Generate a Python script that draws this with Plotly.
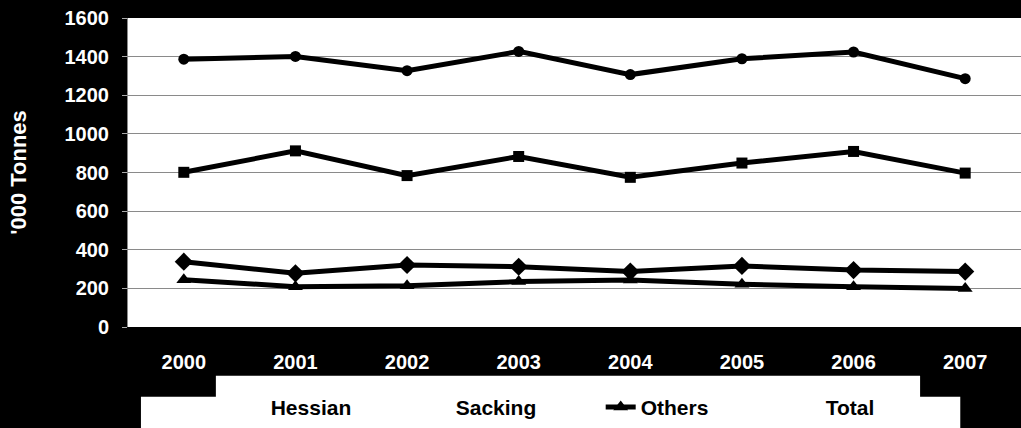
import plotly.graph_objects as go

years = ["2000", "2001", "2002", "2003", "2004", "2005", "2006", "2007"]
hessian = [338, 278, 321, 312, 287, 316, 295, 287]
sacking = [801, 912, 784, 883, 775, 849, 909, 797]
others = [245, 209, 214, 235, 243, 221, 209, 200]
total = [1387, 1401, 1327, 1427, 1307, 1389, 1424, 1286]
y_ticks = [0, 200, 400, 600, 800, 1000, 1200, 1400, 1600]

FONT = "Liberation Sans, Arial, sans-serif"

fig = go.Figure()

series = [
    ("Hessian", hessian, "diamond", 14),
    ("Sacking", sacking, "square", 11),
    ("Others", others, "triangle-up", 13),
    ("Total", total, "circle", 11),
]

for name, vals, sym, sz in series:
    fig.add_trace(go.Scatter(
        x=years, y=vals, name=name, mode="lines+markers",
        line=dict(color="black", width=5),
        marker=dict(symbol=sym, size=sz, color="black"),
        showlegend=(name == "Others"), legendrank=2,
    ))

# legend-only entries whose symbols are lost in the reference
for name, vals, sym, sz in series:
    if name == "Others":
        continue
    fig.add_trace(go.Scatter(
        x=[None], y=[None], name=name, mode="lines",
        line=dict(color="rgba(255,255,255,0)", width=1),
        showlegend=True,
        legendrank={"Hessian": 1, "Sacking": 1.5, "Total": 3}[name],
    ))

# white scan patches behind the legend
fig.add_shape(type="rect", xref="paper", yref="paper",
              x0=0.0984, x1=0.887, y0=-0.36, y1=-0.158,
              fillcolor="white", line=dict(width=0), layer="below")
fig.add_shape(type="rect", xref="paper", yref="paper",
              x0=0.0145, x1=0.932, y0=-0.36, y1=-0.226,
              fillcolor="white", line=dict(width=0), layer="below")

fig.update_layout(
    width=1021, height=428,
    margin=dict(l=128, r=0, t=18, b=97),
    paper_bgcolor="black", plot_bgcolor="white",
    font=dict(family=FONT, color="white", size=20, weight="bold"),
    legend=dict(
        orientation="h", x=0.115, xanchor="left", y=-0.26, yanchor="middle",
        bgcolor="rgba(0,0,0,0)", font=dict(color="black", size=21, family=FONT, weight="bold"),
        entrywidth=140, entrywidthmode="pixels", traceorder="normal",
    ),
    xaxis=dict(
        type="category", range=[-0.5, 7.5], showgrid=False,
        showline=True, linecolor="black", linewidth=2,
        ticks="", tickfont=dict(size=20, color="white", family=FONT, weight="bold"),
        ticklabelstandoff=16,
    ),
    yaxis=dict(
        range=[0, 1600], tickvals=y_ticks, showgrid=True,
        gridcolor="#8a8a8a", gridwidth=1, zeroline=False,
        showline=True, linecolor="#8a8a8a", linewidth=1,
        ticks="outside", ticklen=5, tickcolor="#aaaaaa",
        tickfont=dict(size=20, color="white", family=FONT, weight="bold"),
        ticklabelstandoff=9,
        title=dict(text="'000 Tonnes", standoff=31,
                   font=dict(size=22, color="white", family=FONT, weight="bold")),
    ),
)

fig.write_html("out.html", config={"displayModeBar": False},
               post_script="document.body.style.margin='0';document.body.style.background='black';")
